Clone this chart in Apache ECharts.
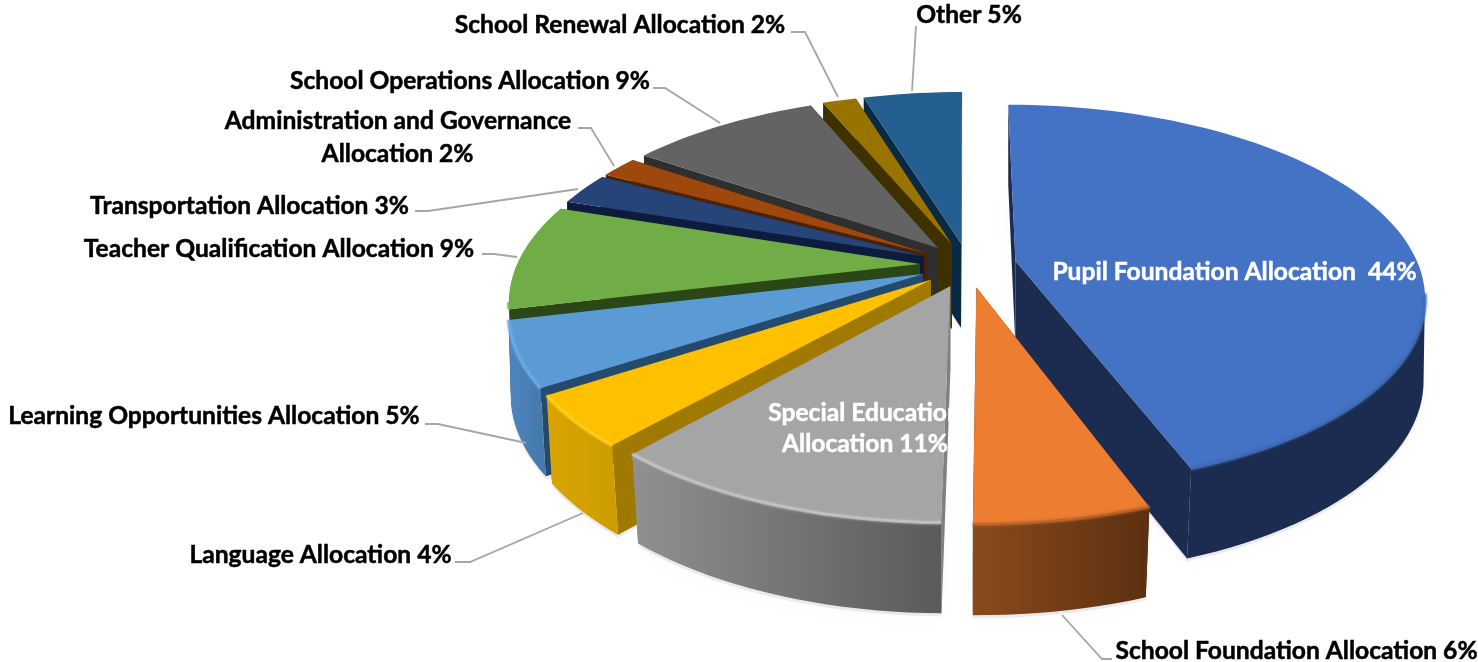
<!DOCTYPE html>
<html><head><meta charset="utf-8">
<style>html,body{margin:0;padding:0;background:#fff}#c{width:1478px;height:662px}</style>
<script src="https://cdn.jsdelivr.net/npm/echarts@6/dist/echarts.min.js"></script>
</head><body><div id="c"></div>
<script>
const categories = ['Pupil Foundation Allocation','School Foundation Allocation','Special Education Allocation','Language Allocation','Learning Opportunities Allocation','Teacher Qualification Allocation','Transportation Allocation','Administration and Governance Allocation','School Operations Allocation','School Renewal Allocation','Other'];
const shares = [44.4,5.77,11.33,4.3,5.45,8.85,2.7,1.8,9.1,1.6,4.7];
const topColors = ['#4472C4','#ED7D31','#A5A5A5','#FFC000','#5B9BD5','#70AD47','#264478','#9E480E','#636363','#997300','#255E91'];
const cutColors = ['#1B2C50','#5E3212','#808080','#A07A00','#264A6E','#2B4718','#0D1C3D','#4A2206','#2F2F2F','#3F3000','#0A2945'];
const rimLeft = ['#1B2C50','#8A4A1E','#909090','#D9A500','#4F86BE','#5A8A39','#1D3560','#7A380B','#4E4E4E','#775900','#1C486F'];
const rimRight = ['#1B2C50','#5C3010','#5A5A5A','#CC9C00','#4478AC','#4E7A30','#1D3560','#7A380B','#4E4E4E','#775900','#1C486F'];
const bevel = ['#3F69B4','#B5622A','#C8C8C8','#FFD020','#6CAEE8','#70AD47','#264478','#9E480E','#636363','#997300','#255E91'];

const labelTexts = ['Pupil Foundation Allocation  44%','School Foundation Allocation 6%','Special Education','Allocation 11%','Language Allocation 4%','Learning Opportunities Allocation 5%','Teacher Qualification Allocation 9%','Transportation Allocation 3%','Administration and Governance','Allocation 2%','School Operations Allocation 9%','School Renewal Allocation 2%','Other 5%'];
const labelLayout = [
 [1234.5,272,'#fff'],[1296.5,651,'#000'],[864.5,413,'#fff'],[865,444,'#fff'],[320.5,555,'#000'],[214,416,'#000'],[279,249,'#000'],[249.5,206,'#000'],[398,121,'#000'],[397.5,154,'#000'],[470,81,'#000'],[620,25,'#000'],[969,15,'#000']
];
const leaders = [
 [[1062,615],[1102,659],[1112,659]],
 [[583,513],[470,562],[455,562]],
 [[526,443],[438,424],[425,424]],
 [[517,257],[494,254],[482,254]],
 [[578,189],[428,211],[415,211]],
 [[614,166],[591,128],[578,128]],
 [[720,123],[665,88],[653,88]],
 [[838,97],[805,32],[791,32]],
 [[912,91],[916,26]]
];

const CX=968, CY=265, RX=403, RY=185.6, K=0.179, EXPLODE=0.12, DEPTH=85;
const rad=d=>d*Math.PI/180;
function project(x,z){const w=1/(1-K*z);return [CX+x*RX*w, CY+z*RY*w];}
function lower(p,z){const f=1-0.02*Math.max(0,Math.min(1,z));return [CX+(p[0]-CX)*f, p[1]+DEPTH*(1+0.06*z)];}

let acc=0;
const total=shares.reduce((a,b)=>a+b,0);
const wedges = shares.map((v,i)=>{const s=acc/total*360;acc+=v;const e=acc/total*360;return {i,s,e,m:(s+e)/2};});
const order = wedges.slice().sort((a,b)=>(-Math.cos(rad(a.m)))-(-Math.cos(rad(b.m))));
const seriesData = order.map(w=>[w.s,w.e,w.m,w.i]);

function geom(s,e,m){
  const ox=EXPLODE*Math.sin(rad(m)), oz=-EXPLODE*Math.cos(rad(m));
  const rim=[];const n=Math.max(4,Math.ceil((e-s)/2));
  for(let j=0;j<=n;j++){const t=s+(e-s)*j/n;const x=ox+Math.sin(rad(t)),z=oz-Math.cos(rad(t));
    const p=project(x,z);rim.push({p,b:lower(p,z),t,z});}
  const a=project(ox,oz);const ab=lower(a,oz);
  return {rim,a,ab,oz};
}
function renderShadow(params,api){
  const g=geom(api.value(0),api.value(1),api.value(2));
  const c=q=>api.coord([q[0],q[1]+3]);
  const pts=[c(g.ab)].concat(g.rim.map(r=>c(r.b)));
  return {type:'polygon',shape:{points:pts},style:{fill:'rgba(0,0,0,0.07)',shadowBlur:26,shadowColor:'rgba(0,0,0,0.32)'},silent:true};
}
function renderWedge(params,api){
  const s=api.value(0),e=api.value(1),m=api.value(2),i=api.value(3);
  const g=geom(s,e,m);const c=q=>api.coord(q);
  const children=[];
  const first=g.rim[0],last=g.rim[g.rim.length-1];
  const w1={type:'polygon',shape:{points:[c(g.a),c(first.p),c(first.b),c(g.ab)]},style:{fill:cutColors[i]},zd:first.z};
  const w2={type:'polygon',shape:{points:[c(g.a),c(last.p),c(last.b),c(g.ab)]},style:{fill:cutColors[i]},zd:last.z};
  (w1.zd<w2.zd?[w1,w2]:[w2,w1]).forEach(o=>{delete o.zd;children.push(o);});
  const vis=g.rim.filter(r=>-Math.cos(rad(r.t))>0.17);
  if(vis.length>1){
    const pts=vis.map(r=>c(r.p)).concat(vis.slice().reverse().map(r=>c(r.b)));
    children.push({type:'polygon',shape:{points:pts},style:{fill:new echarts.graphic.LinearGradient(0,0,1,0,[{offset:0,color:rimLeft[i]},{offset:1,color:rimRight[i]}])}});
  }
  children.push({type:'polygon',shape:{points:[c(g.a)].concat(g.rim.map(r=>c(r.p)))},style:{fill:topColors[i]}});
  if(vis.length>1){
    children.push({type:'polyline',shape:{points:vis.map(r=>c(r.p))},style:{stroke:bevel[i],lineWidth:3,fill:'none',opacity:0.7,shadowBlur:3,shadowColor:bevel[i]}});
  }
  return {type:'group',children};
}

const FONT='Lato', FS=24.6;
const graphics=[];
leaders.forEach(l=>graphics.push({type:'polyline',z:5,shape:{points:l},style:{stroke:'#A6A6A6',lineWidth:1.8,fill:'none'}}));
labelTexts.forEach((t,i)=>{const L=labelLayout[i];
  graphics.push({type:'text',z:10,x:L[0],y:L[1],style:{text:t,fill:L[2],stroke:L[2],lineWidth:0.5,font:'bold '+FS+'px '+FONT,align:'center',verticalAlign:'middle'}});});

const chart=echarts.init(document.getElementById('c'),null,{renderer:'canvas',width:1478,height:662});
chart.setOption({
  animation:false,backgroundColor:'#fff',
  grid:{left:0,right:0,top:0,bottom:0},
  xAxis:{type:'value',min:0,max:1478,show:false},
  yAxis:{type:'value',min:0,max:662,inverse:true,show:false},
  series:[
    {type:'custom',name:'shadow',z:1,silent:true,clip:false,renderItem:renderShadow,data:seriesData,encode:{x:-1,y:-1}},
    {type:'custom',name:'Funding share',z:2,silent:true,clip:false,renderItem:renderWedge,data:seriesData,encode:{x:-1,y:-1}}
  ],
  graphic:graphics
});
</script></body></html>
